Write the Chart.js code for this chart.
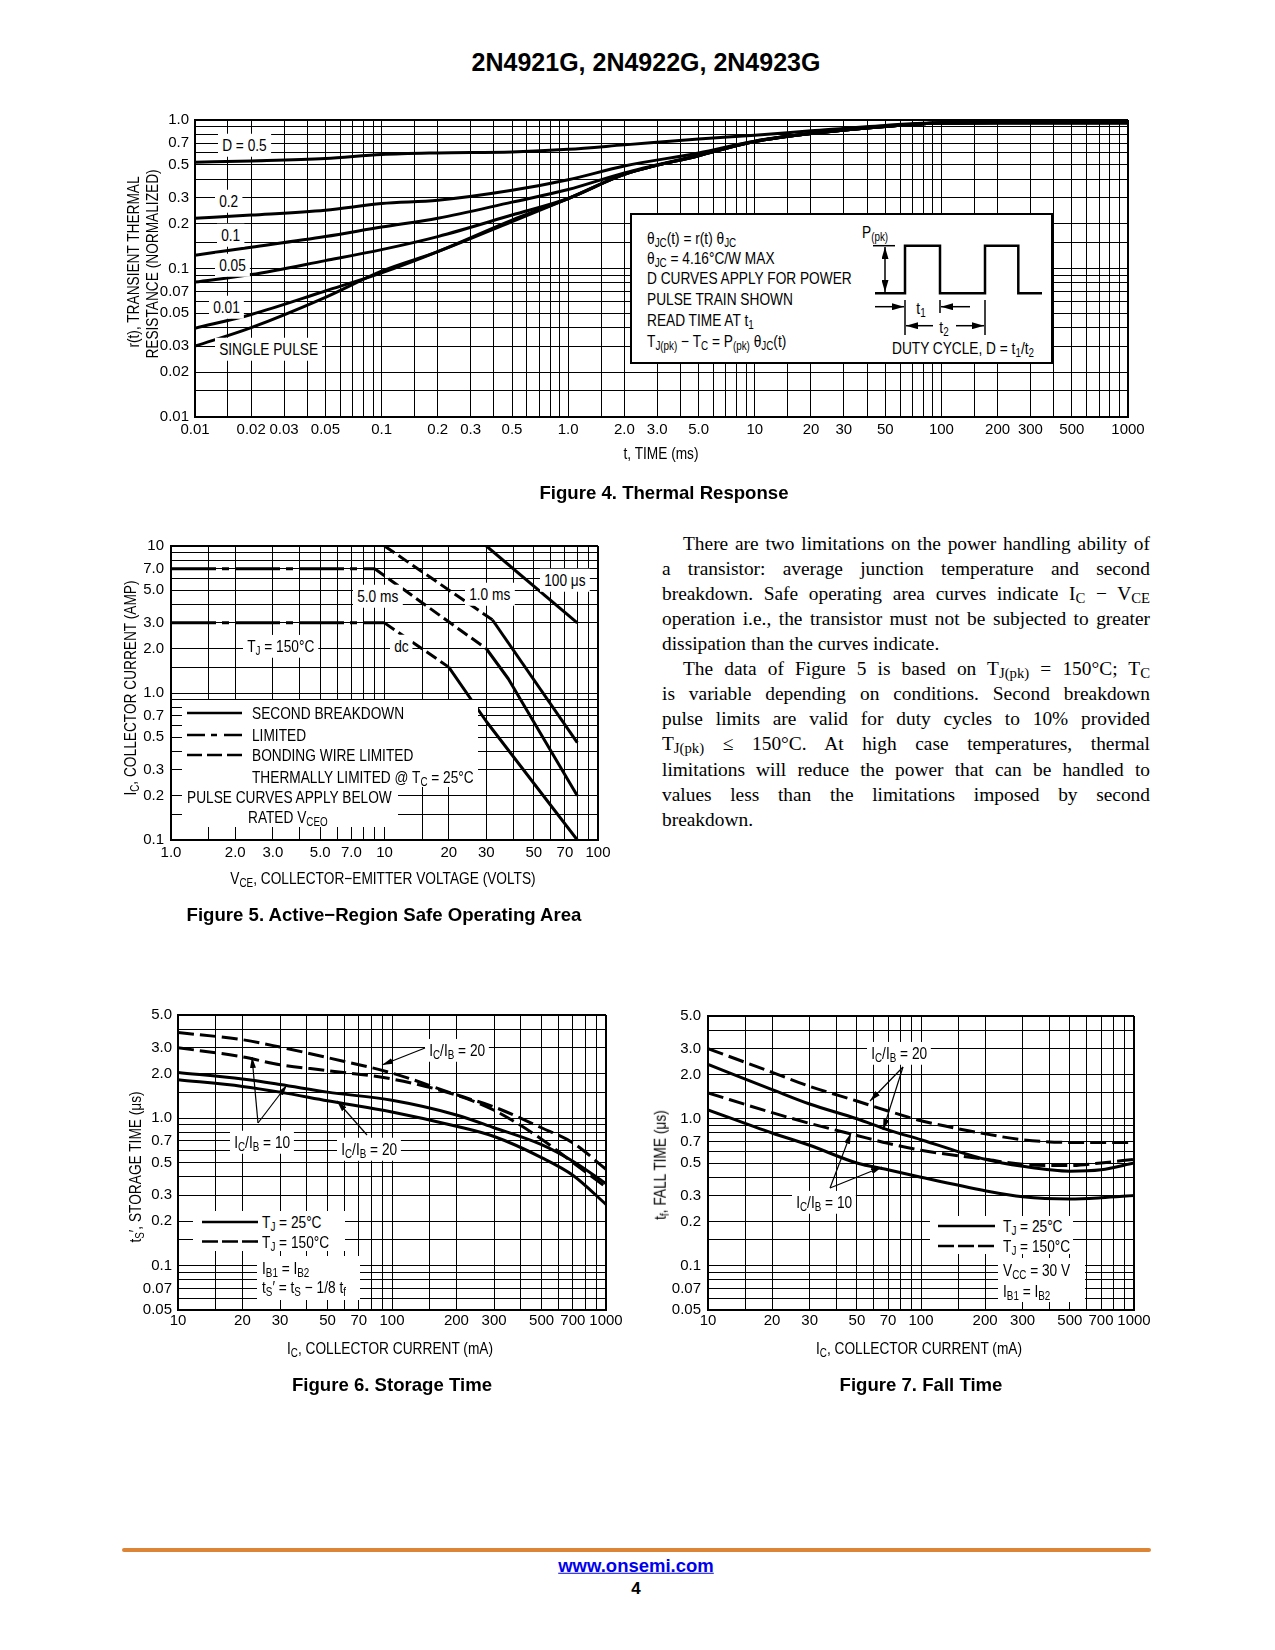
<!DOCTYPE html>
<html lang="en">
<head>
<meta charset="UTF-8">
<title>2N4921G, 2N4922G, 2N4923G</title>
<script src="https://cdn.jsdelivr.net/npm/chart.js"></script>
<style>
  body { margin: 0; background: #fff; }
  #page { position: relative; width: 1275px; height: 1650px; overflow: hidden; background: #fff; }
  canvas { position: absolute; z-index: 1; }
  /* the datasheet uses a condensed sans; no narrow face is installed, so squeeze the regular one */
  .t { position: absolute; z-index: 2; font-family: 'Liberation Sans Narrow', 'Liberation Sans', Arial, sans-serif;
       font-size: 16.5px; line-height: 1; white-space: nowrap; color: #000; transform-origin: left center; }
  .m { transform: translateY(-50%) scaleX(0.83); }
  .c { transform: translate(-50%, -50%) scaleX(0.83); transform-origin: center; }
  .r { transform: translate(-50%, -50%) rotate(-90deg) scaleX(0.83); transform-origin: center; }
  .b { background: #fff; padding: 3px 5px; margin-left: -5px; }
  .wb { position: absolute; z-index: 2; background: #fff; }
  .box { position: absolute; z-index: 2; background: #fff; border: 2px solid #000; box-sizing: border-box; }
  sub { font-size: 72%; vertical-align: -0.28em; line-height: 0; }
  .cap { position: absolute; z-index: 2; font-family: 'Liberation Sans', Arial, sans-serif; font-weight: bold;
         font-size: 18.6px; line-height: 1; white-space: nowrap; transform: translate(-50%, -50%); }
  #ov { position: absolute; left: 0; top: 0; z-index: 3; pointer-events: none; }
  .para { position: absolute; z-index: 2; left: 662px; top: 530.7px; width: 488px;
          font-family: 'Liberation Serif', 'Times New Roman', serif; font-size: 19.4px; line-height: 25.1px; color: #000; }
  .para div { height: 25.1px; text-align: justify; text-align-last: justify; }
  .para div.end { text-align-last: left; }
  .para div.ind { text-indent: 21px; }
  .para sub { font-size: 76%; vertical-align: -0.22em; }
  .rule { position: absolute; left: 122px; top: 1548px; width: 1029px; height: 4px; background: #dd8536; border-radius: 2px; }
  .foot { position: absolute; font-family: 'Liberation Sans', Arial, sans-serif; font-weight: bold; line-height: 1;
          transform: translate(-50%, -50%); white-space: nowrap; }
  .foot a { color: #0000ee; text-decoration: underline; }
</style>
</head>
<body>
<div id="page">

  <div class="cap" style="left:646px;top:62px;font-size:25px">2N4921G, 2N4922G, 2N4923G</div>

  <!-- Figure 4 -->
  <canvas id="fig4" width="1016" height="344" style="left:140px;top:105px"></canvas>
  <div class="t r" style="left:133px;top:262px">r(t), TRANSIENT THERMAL</div>
  <div class="t r" style="left:152px;top:264px">RESISTANCE (NORMALIZED)</div>
  <div class="t c" style="left:661px;top:453px">t, TIME (ms)</div>
  <div class="cap" style="left:664px;top:493px">Figure 4. Thermal Response</div>
  <div class="t m b" style="left:223px;top:145px">D = 0.5</div>
  <div class="t m b" style="left:220px;top:201px">0.2</div>
  <div class="t m b" style="left:222px;top:235px">0.1</div>
  <div class="t m b" style="left:220px;top:265px">0.05</div>
  <div class="t m b" style="left:214px;top:307px">0.01</div>
  <div class="t m b" style="left:220px;top:349px">SINGLE PULSE</div>
  <div class="box" style="left:630px;top:213px;width:423px;height:151px"></div>
  <div class="t m" style="left:647px;top:238px">θ<sub>JC</sub>(t) = r(t) θ<sub>JC</sub></div>
  <div class="t m" style="left:647px;top:258px">θ<sub>JC</sub> = 4.16°C/W MAX</div>
  <div class="t m" style="left:647px;top:278px">D CURVES APPLY FOR POWER</div>
  <div class="t m" style="left:647px;top:299px">PULSE TRAIN SHOWN</div>
  <div class="t m" style="left:647px;top:320px">READ TIME AT t<sub>1</sub></div>
  <div class="t m" style="left:647px;top:341px">T<sub>J(pk)</sub> − T<sub>C</sub> = P<sub>(pk)</sub> θ<sub>JC</sub>(t)</div>
  <div class="t m" style="left:862px;top:232px">P<sub>(pk)</sub></div>
  <div class="t c" style="left:921px;top:308px">t<sub>1</sub></div>
  <div class="t c" style="left:944px;top:327px">t<sub>2</sub></div>
  <div class="t m" style="left:892px;top:348px">DUTY CYCLE, D = t<sub>1</sub>/t<sub>2</sub></div>

  <!-- Figure 5 -->
  <canvas id="fig5" width="502" height="340" style="left:121px;top:530px"></canvas>
  <div class="t r" style="left:130px;top:688px">I<sub>C</sub>, COLLECTOR CURRENT (AMP)</div>
  <div class="t c" style="left:383px;top:878px">V<sub>CE</sub>, COLLECTOR−EMITTER VOLTAGE (VOLTS)</div>
  <div class="cap" style="left:384px;top:915px">Figure 5. Active−Region Safe Operating Area</div>
  <div class="t m b" style="left:358px;top:596px">5.0 ms</div>
  <div class="t m b" style="left:470px;top:594px">1.0 ms</div>
  <div class="t m b" style="left:545px;top:580px">100 μs</div>
  <div class="t m b" style="left:248px;top:646px">T<sub>J</sub> = 150°C</div>
  <div class="t m b" style="left:395px;top:646px">dc</div>
  <div class="wb" style="left:182px;top:700px;width:296px;height:87px"></div>
  <div class="wb" style="left:182px;top:787px;width:216px;height:40px"></div>
  <div class="t m" style="left:252px;top:713px">SECOND BREAKDOWN</div>
  <div class="t m" style="left:252px;top:735px">LIMITED</div>
  <div class="t m" style="left:252px;top:755px">BONDING WIRE LIMITED</div>
  <div class="t m" style="left:252px;top:777px">THERMALLY LIMITED @ T<sub>C</sub> = 25°C</div>
  <div class="t m" style="left:187px;top:797px">PULSE CURVES APPLY BELOW</div>
  <div class="t m" style="left:248px;top:817px">RATED V<sub>CEO</sub></div>

  <div class="para">
    <div class="ind">There are two limitations on the power handling ability of</div>
    <div>a transistor: average junction temperature and second</div>
    <div>breakdown. Safe operating area curves indicate I<sub>C</sub> − V<sub>CE</sub></div>
    <div>operation i.e., the transistor must not be subjected to greater</div>
    <div class="end">dissipation than the curves indicate.</div>
    <div class="ind">The data of Figure 5 is based on T<sub>J(pk)</sub> = 150°C; T<sub>C</sub></div>
    <div>is variable depending on conditions. Second breakdown</div>
    <div>pulse limits are valid for duty cycles to 10% provided</div>
    <div>T<sub>J(pk)</sub> ≤ 150°C. At high case temperatures, thermal</div>
    <div>limitations will reduce the power that can be handled to</div>
    <div>values less than the limitations imposed by second</div>
    <div class="end">breakdown.</div>
  </div>

  <!-- Figure 6 -->
  <canvas id="fig6" width="503" height="342" style="left:128px;top:1000px"></canvas>
  <div class="t r" style="left:135px;top:1167px">t<sub>S</sub>′, STORAGE TIME (μs)</div>
  <div class="t c" style="left:390px;top:1348px">I<sub>C</sub>, COLLECTOR CURRENT (mA)</div>
  <div class="cap" style="left:392px;top:1385px">Figure 6. Storage Time</div>
  <div class="t m b" style="left:430px;top:1050px">I<sub>C</sub>/I<sub>B</sub> = 20</div>
  <div class="t m b" style="left:235px;top:1142px">I<sub>C</sub>/I<sub>B</sub> = 10</div>
  <div class="t m b" style="left:342px;top:1149px">I<sub>C</sub>/I<sub>B</sub> = 20</div>
  <div class="wb" style="left:193px;top:1211px;width:152px;height:40px"></div>
  <div class="wb" style="left:257px;top:1256px;width:103px;height:44px"></div>
  <div class="t m" style="left:262px;top:1222px">T<sub>J</sub> = 25°C</div>
  <div class="t m" style="left:262px;top:1241.5px">T<sub>J</sub> = 150°C</div>
  <div class="t m" style="left:262px;top:1267.5px">I<sub>B1</sub> = I<sub>B2</sub></div>
  <div class="t m" style="left:262px;top:1287px">t<sub>S</sub>′ = t<sub>S</sub> − 1/8 t<sub>f</sub></div>

  <!-- Figure 7 -->
  <canvas id="fig7" width="501" height="342" style="left:658px;top:1000px"></canvas>
  <div class="t r" style="left:660px;top:1165px">t<sub>f</sub>, FALL TIME (μs)</div>
  <div class="t c" style="left:919px;top:1348px">I<sub>C</sub>, COLLECTOR CURRENT (mA)</div>
  <div class="cap" style="left:921px;top:1385px">Figure 7. Fall Time</div>
  <div class="t m b" style="left:872px;top:1053px">I<sub>C</sub>/I<sub>B</sub> = 20</div>
  <div class="t m b" style="left:797px;top:1202px">I<sub>C</sub>/I<sub>B</sub> = 10</div>
  <div class="wb" style="left:930px;top:1216px;width:143px;height:38px"></div>
  <div class="wb" style="left:998px;top:1258px;width:87px;height:44px"></div>
  <div class="t m" style="left:1003px;top:1226px">T<sub>J</sub> = 25°C</div>
  <div class="t m" style="left:1003px;top:1246px">T<sub>J</sub> = 150°C</div>
  <div class="t m" style="left:1003px;top:1270px">V<sub>CC</sub> = 30 V</div>
  <div class="t m" style="left:1003px;top:1291px">I<sub>B1</sub> = I<sub>B2</sub></div>

  <!-- arrows, legend samples, pulse sketch -->
  <svg id="ov" width="1275" height="1650" viewBox="0 0 1275 1650">
    <defs>
      <marker id="ah" markerUnits="userSpaceOnUse" markerWidth="11" markerHeight="6" refX="11" refY="3" orient="auto">
        <path d="M0,0 L11,3 L0,6 z" fill="#000"/>
      </marker>
      <marker id="ap" markerUnits="userSpaceOnUse" markerWidth="12" markerHeight="7" refX="12" refY="3.5" orient="auto-start-reverse">
        <path d="M0,0 L12,3.5 L0,7 z" fill="#000"/>
      </marker>
    </defs>
    <g stroke="#000" fill="none">
      <polyline stroke-width="2.5" points="875,293.3 905,293.3 905,245.7 940,245.7 940,293.3 985,293.3 985,245.7 1018.3,245.7 1018.3,293.3 1042,293.3"/>
      <line stroke-width="1.5" x1="873" y1="245.7" x2="895" y2="245.7"/>
      <line stroke-width="1.5" x1="885" y1="247" x2="885" y2="292" marker-start="url(#ap)" marker-end="url(#ap)"/>
      <line stroke-width="1.5" x1="875" y1="306.7" x2="904" y2="306.7" marker-end="url(#ap)"/>
      <line stroke-width="1.5" x1="970" y1="306.7" x2="941" y2="306.7" marker-end="url(#ap)"/>
      <line stroke-width="1.5" x1="905" y1="300" x2="905" y2="335"/>
      <line stroke-width="1.5" x1="940" y1="300" x2="940" y2="313"/>
      <line stroke-width="1.5" x1="985" y1="300" x2="985" y2="335"/>
      <line stroke-width="1.5" x1="933" y1="325.7" x2="906" y2="325.7" marker-end="url(#ap)"/>
      <line stroke-width="1.5" x1="956" y1="325.7" x2="984" y2="325.7" marker-end="url(#ap)"/>

      <line stroke-width="2.6" x1="187" y1="713" x2="242" y2="713"/>
      <line stroke-width="2.6" x1="187" y1="735" x2="242" y2="735" stroke-dasharray="18 6 6 7 18"/>
      <line stroke-width="2.6" x1="187" y1="755" x2="242" y2="755" stroke-dasharray="15 5"/>

      <line stroke-width="2.6" x1="202" y1="1222" x2="258" y2="1222"/>
      <line stroke-width="2.6" x1="202" y1="1241.5" x2="258" y2="1241.5" stroke-dasharray="16 4"/>
      <line stroke-width="1.2" x1="425" y1="1048" x2="382" y2="1065" marker-end="url(#ah)"/>
      <line stroke-width="1.2" x1="258" y1="1123" x2="252" y2="1057" marker-end="url(#ah)"/>
      <line stroke-width="1.2" x1="258" y1="1123" x2="287" y2="1085" marker-end="url(#ah)"/>
      <line stroke-width="1.2" x1="367" y1="1135" x2="337" y2="1101" marker-end="url(#ah)"/>

      <line stroke-width="2.6" x1="938" y1="1226" x2="995" y2="1226"/>
      <line stroke-width="2.6" x1="938" y1="1246" x2="995" y2="1246" stroke-dasharray="16 4"/>
      <line stroke-width="1.2" x1="903" y1="1067" x2="870" y2="1101" marker-end="url(#ah)"/>
      <line stroke-width="1.2" x1="903" y1="1067" x2="883" y2="1130" marker-end="url(#ah)"/>
      <line stroke-width="1.2" x1="830" y1="1188" x2="851" y2="1133" marker-end="url(#ah)"/>
      <line stroke-width="1.2" x1="830" y1="1188" x2="882" y2="1167" marker-end="url(#ah)"/>
    </g>
  </svg>

  <div class="rule"></div>
  <div class="foot" style="left:636px;top:1566px;font-size:18.5px"><a href="http://www.onsemi.com">www.onsemi.com</a></div>
  <div class="foot" style="left:636px;top:1588px;font-size:17px">4</div>
</div>

<script>
// Figure 4: thermal response, t (ms) vs r(t)
const thermT  = [0.01, 0.02, 0.05, 0.1, 0.2, 0.5, 1, 2, 5, 10, 20, 50, 100, 200, 500, 1000];
const rD050   = [0.52, 0.53, 0.55, 0.585, 0.60, 0.61, 0.635, 0.68, 0.745, 0.79, 0.845, 0.92, 0.96, 0.96, 0.96, 0.96];
const rD020   = [0.218, 0.229, 0.247, 0.274, 0.288, 0.336, 0.396, 0.49, 0.60, 0.72, 0.81, 0.905, 0.955, 0.96, 0.96, 0.96];
const rD010   = [0.123, 0.139, 0.164, 0.19, 0.218, 0.28, 0.34, 0.44, 0.58, 0.72, 0.81, 0.905, 0.955, 0.96, 0.96, 0.96];
const rD005   = [0.081, 0.091, 0.113, 0.134, 0.164, 0.229, 0.296, 0.43, 0.575, 0.715, 0.81, 0.905, 0.955, 0.96, 0.96, 0.96];
const rD001   = [0.0396, 0.049, 0.0706, 0.0935, 0.13, 0.212, 0.296, 0.43, 0.575, 0.715, 0.81, 0.905, 0.955, 0.96, 0.96, 0.96];
const rSingle = [0.030, 0.040, 0.064, 0.096, 0.13, 0.207, 0.296, 0.43, 0.575, 0.715, 0.81, 0.905, 0.955, 0.96, 0.96, 0.96];
const fig4XLabels = ['0.01', '0.02', '0.03', '0.05', '0.1', '0.2', '0.3', '0.5', '1.0', '2.0', '3.0', '5.0',
                     '10', '20', '30', '50', '100', '200', '300', '500', '1000'];
const fig4YLabels = ['0.01', '0.02', '0.03', '0.05', '0.07', '0.1', '0.2', '0.3', '0.5', '0.7', '1.0'];

// Figure 5: safe operating area, VCE (V) vs IC (A); segment kinds: b = bonding wire, t = thermal, s = second breakdown
const dcV   = [1, 10, 20, 30, 80];
const dcI   = [3, 3, 1.5, 0.64, 0.1];
const dcSeg = ['b', 't', 's', 's'];
const ms5V   = [1, 9, 30, 38, 80];
const ms5I   = [7, 7, 2, 1.25, 0.2];
const ms5Seg = ['b', 't', 's', 's'];
const ms1V   = [10, 32, 80];
const ms1I   = [10, 3.15, 0.46];
const ms1Seg = ['t', 's'];
const us100V   = [30, 80];
const us100I   = [10, 3.0];
const us100Seg = ['s'];
const fig5XLabels = ['1.0', '2.0', '3.0', '5.0', '7.0', '10', '20', '30', '50', '70', '100'];
const fig5YLabels = ['0.1', '0.2', '0.3', '0.5', '0.7', '1.0', '2.0', '3.0', '5.0', '7.0', '10'];

// Figure 6: storage time, IC (mA) vs ts' (us)
const icStorage = [10, 20, 30, 50, 100, 200, 300, 500, 700, 1000];
const tsHot20   = [3.8, 3.4, 3.03, 2.57, 2.02, 1.44, 1.19, 0.86, 0.68, 0.45];
const tsHot10   = [3.0, 2.6, 2.3, 2.1, 1.84, 1.43, 1.13, 0.72, 0.50, 0.34];
const tsCold10  = [2.04, 1.84, 1.69, 1.50, 1.32, 1.05, 0.86, 0.66, 0.51, 0.36];
const tsCold20  = [1.82, 1.64, 1.50, 1.31, 1.10, 0.88, 0.75, 0.54, 0.41, 0.26];

// Figure 7: fall time, IC (mA) vs tf (us)
const icFall   = [10, 20, 30, 50, 70, 100, 200, 300, 500, 700, 1000];
const tfHot20  = [3.0, 2.07, 1.66, 1.32, 1.13, 0.97, 0.79, 0.72, 0.69, 0.69, 0.69];
const tfHot10  = [1.5, 1.1, 0.93, 0.77, 0.68, 0.61, 0.53, 0.49, 0.48, 0.50, 0.53];
const tfCold20 = [2.34, 1.58, 1.26, 1.0, 0.84, 0.72, 0.53, 0.475, 0.44, 0.45, 0.50];
const tfCold10 = [1.15, 0.80, 0.66, 0.50, 0.45, 0.40, 0.324, 0.295, 0.285, 0.29, 0.30];

const icXLabels = ['10', '20', '30', '50', '70', '100', '200', '300', '500', '700', '1000'];
const timeYLabels = ['0.05', '0.07', '0.1', '0.2', '0.3', '0.5', '0.7', '1.0', '2.0', '3.0', '5.0'];

// log paper grid: 1, 1.5, 2, 3 ... 9 in every decade
const GRID_STEPS = [1, 1.5, 2, 3, 4, 5, 6, 7, 8, 9];
const TICK_FONT = { family: "'Liberation Sans Narrow', 'Liberation Sans', Arial, sans-serif", size: 15 };
const DASH = { s: [], t: [12, 5], b: [45, 6, 7, 6] };

function gridValues(min, max) {
  const out = [];
  for (let e = Math.floor(Math.log10(min)); e <= Math.ceil(Math.log10(max)); e++) {
    GRID_STEPS.forEach(m => {
      const v = +(m * Math.pow(10, e)).toPrecision(4);
      if (v >= min * 0.9999 && v <= max * 1.0001) out.push(v);
    });
  }
  return out;
}

function labelFor(labels, v) {
  const hit = labels.find(l => Math.abs(parseFloat(l) / v - 1) < 1e-6);
  return hit === undefined ? '' : hit;
}

function logAxis(min, max, labels, size, pad) {
  return {
    type: 'logarithmic',
    min: min,
    max: max,
    afterBuildTicks: axis => { axis.ticks = gridValues(min, max).map(v => ({ value: v })); },
    afterFit: axis => { if (axis.isHorizontal()) axis.height = size; else axis.width = size; },
    grid: {
      color: '#000',
      drawTicks: false,
      lineWidth: c => (c.tick && Math.abs(c.tick.value / max - 1) < 1e-6 ? 2 : 1)
    },
    border: { color: '#000', width: 2 },
    ticks: {
      autoSkip: false, maxRotation: 0, minRotation: 0,
      padding: pad, color: '#000', font: TICK_FONT,
      callback: v => labelFor(labels, v)
    }
  };
}

function curve(xs, ys, extra) {
  return Object.assign({
    data: xs.map((x, i) => ({ x: x, y: ys[i] })),
    borderColor: '#000', borderWidth: 3, pointRadius: 0, fill: false,
    cubicInterpolationMode: 'monotone', borderJoinStyle: 'round'
  }, extra || {});
}

function soaLine(xs, ys, kinds) {
  return curve(xs, ys, {
    cubicInterpolationMode: 'default', tension: 0,
    segment: { borderDash: c => DASH[kinds[c.p0DataIndex]] }
  });
}

function makeChart(id, xAxis, yAxis, datasets, padTop, padRight) {
  return new Chart(document.getElementById(id), {
    type: 'line',
    data: { datasets: datasets },
    options: {
      responsive: false, animation: false, devicePixelRatio: 1, events: [],
      layout: { padding: { top: padTop, right: padRight, left: 0, bottom: 0 } },
      plugins: { legend: { display: false }, tooltip: { enabled: false } },
      scales: { x: xAxis, y: yAxis }
    }
  });
}

makeChart('fig4',
  logAxis(0.01, 1000, fig4XLabels, 32, 4),
  logAxis(0.01, 1, fig4YLabels, 55, 6),
  [rD050, rD020, rD010, rD005, rD001, rSingle].map(r => curve(thermT, r)),
  12, 28);

makeChart('fig5',
  logAxis(1, 100, fig5XLabels, 30, 4),
  logAxis(0.1, 10, fig5YLabels, 50, 7),
  [soaLine(dcV, dcI, dcSeg), soaLine(ms5V, ms5I, ms5Seg), soaLine(ms1V, ms1I, ms1Seg), soaLine(us100V, us100I, us100Seg)],
  12, 25);

makeChart('fig6',
  logAxis(10, 1000, icXLabels, 32, 2),
  logAxis(0.05, 5, timeYLabels, 50, 6),
  [curve(icStorage, tsHot20, { borderDash: [16, 6] }), curve(icStorage, tsHot10, { borderDash: [16, 6] }),
   curve(icStorage, tsCold10), curve(icStorage, tsCold20)],
  12, 25);

makeChart('fig7',
  logAxis(10, 1000, icXLabels, 32, 2),
  logAxis(0.05, 5, timeYLabels, 50, 7),
  [curve(icFall, tfHot20, { borderDash: [16, 6] }), curve(icFall, tfHot10, { borderDash: [16, 6] }),
   curve(icFall, tfCold20), curve(icFall, tfCold10)],
  12, 25);
</script>
</body>
</html>
